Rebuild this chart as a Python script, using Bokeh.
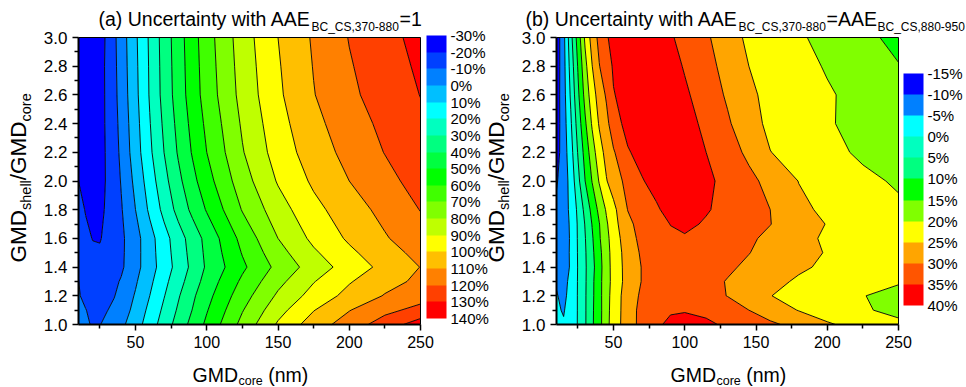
import numpy as np
from bokeh.plotting import figure
from bokeh.models import (Range1d, FixedTicker, PrintfTickFormatter, LinearColorMapper,
                          ColorBar, Label, CustomJSTickFormatter, LinearAxis, AllLabels)
from bokeh.embed import file_html
from bokeh.resources import INLINE

# ---------------- data: panel (a) ----------------
GMD_CORE_A = [10, 15, 20, 25, 30, 35, 40, 50, 60, 70, 80, 90, 100, 125, 150, 175, 200, 225, 250]
RATIO_A = [1.0, 1.1, 1.2, 1.3, 1.4, 1.5, 1.6, 1.8, 2.0, 2.2, 2.4, 2.6, 2.8, 3.0]
UNC_A = [
    [-7.0, -9.0, -10.6, -10.3, -7.8, -5.0, -2.2, 5.5, 15.0, 24.5, 34.0, 43.3, 52.0, 73.1, 91.3, 105.0, 114.8, 124.6, 135.0],
    [-8.2, -9.8, -11.5, -11.5, -10.3, -8.0, -5.4, 3.2, 12.5, 22.0, 31.3, 40.3, 49.3, 69.4, 86.5, 99.6, 109.6, 117.5, 123.0],
    [-9.5, -11.5, -13.0, -13.0, -12.3, -10.4, -6.9, 0.9, 10.0, 19.5, 29.0, 38.2, 46.7, 65.7, 81.6, 93.8, 103.1, 110.6, 116.0],
    [-9.9, -12.5, -15.0, -15.0, -13.8, -11.8, -9.2, -1.2, 7.8, 17.1, 26.3, 34.9, 44.0, 61.9, 77.2, 89.5, 99.2, 106.7, 112.0],
    [-10.5, -14.0, -16.5, -17.0, -15.5, -13.5, -11.5, -3.3, 5.7, 14.7, 23.7, 32.5, 41.4, 58.1, 72.8, 84.7, 94.4, 102.9, 110.2],
    [-12.5, -16.0, -18.5, -19.0, -17.0, -14.5, -11.8, -3.5, 6.0, 15.5, 24.6, 33.5, 42.2, 60.6, 76.4, 88.5, 98.0, 106.0, 113.0],
    [-14.5, -18.0, -20.3, -20.5, -18.1, -15.0, -11.9, -3.6, 6.3, 16.2, 25.5, 34.5, 43.0, 63.1, 80.0, 92.3, 101.5, 109.1, 116.0],
    [-17.0, -20.5, -22.0, -21.3, -19.2, -15.0, -10.8, 0.0, 11.8, 22.8, 33.2, 42.4, 50.8, 70.6, 85.6, 97.1, 105.5, 112.9, 120.3],
    [-20.0, -22.5, -23.0, -21.7, -19.5, -14.7, -9.4, 2.6, 15.1, 26.7, 37.4, 47.1, 56.1, 75.5, 90.9, 101.7, 110.0, 116.9, 124.0],
    [-22.0, -24.0, -24.0, -21.8, -19.4, -13.9, -8.0, 5.3, 18.1, 30.0, 41.0, 50.9, 60.0, 79.3, 94.5, 105.0, 113.1, 120.3, 126.5],
    [-23.5, -25.0, -24.5, -22.0, -19.1, -13.3, -7.0, 6.3, 19.5, 31.7, 42.8, 52.9, 62.1, 81.3, 96.4, 107.3, 115.5, 122.3, 128.3],
    [-25.0, -26.0, -25.0, -22.3, -18.9, -12.6, -6.1, 7.4, 20.8, 33.4, 44.6, 54.9, 64.3, 83.3, 98.3, 109.6, 118.0, 124.4, 130.2],
    [-25.5, -26.5, -25.5, -22.5, -18.7, -12.2, -5.6, 7.9, 21.1, 33.8, 45.1, 55.4, 65.0, 84.2, 99.1, 110.4, 119.2, 125.6, 131.6],
    [-26.0, -27.0, -26.0, -23.5, -18.6, -11.9, -5.1, 8.4, 21.5, 34.2, 45.6, 56.0, 65.7, 85.1, 100.0, 111.2, 120.4, 126.9, 133.0],
]
LEVELS_A = [-30, -20, -10, 0, 10, 20, 30, 40, 50, 60, 70, 80, 90, 100, 110, 120, 130, 140]
COLORS_A = ["#0000FF", "#0040FF", "#0080FF", "#00BFFF", "#00FFFF", "#00FFBF", "#00FF80",
            "#00FF40", "#00FF00", "#40FF00", "#80FF00", "#BFFF00", "#FFFF00", "#FFBF00",
            "#FF8000", "#FF4000", "#FF0000"]

# ---------------- data: panel (b) ----------------
GMD_CORE_B = [10, 15, 20, 25, 30, 35, 40, 45, 50, 60, 70, 80, 90, 100, 115, 130, 145, 160, 180, 200, 225, 250]
RATIO_B = [1.0, 1.1, 1.2, 1.3, 1.4, 1.5, 1.6, 1.7, 1.8, 2.0, 2.2, 2.4, 2.6, 2.8, 3.0]
UNC_B = [
    [-4.0, -4.5, -2.2, 0.2, 4.4, 9.3, 13.3, 18.5, 22.3, 27.7, 31.5, 34.2, 36.0, 36.5, 35.8, 34.3, 32.6, 30.8, 28.6, 25.6, 23.0, 21.0],
    [-4.3, -5.4, -2.5, 0.2, 4.4, 9.2, 13.3, 18.3, 22.2, 27.6, 31.5, 33.5, 34.5, 34.7, 34.0, 32.0, 30.0, 27.7, 24.8, 22.5, 20.5, 18.8],
    [-4.8, -5.8, -3.8, 0.3, 4.4, 9.0, 13.4, 18.2, 22.0, 27.6, 30.8, 31.8, 32.3, 32.3, 31.5, 29.9, 27.5, 25.1, 23.5, 21.9, 20.1, 19.0],
    [-5.3, -5.5, -4.6, 0.3, 4.3, 8.9, 13.5, 17.9, 21.7, 26.9, 30.2, 31.5, 32.0, 32.0, 31.2, 29.8, 28.5, 26.5, 24.3, 22.8, 21.3, 20.3],
    [-7.5, -6.3, -4.7, 0.2, 4.3, 8.4, 13.3, 17.8, 21.9, 26.9, 30.2, 31.5, 32.2, 32.5, 31.8, 30.6, 29.3, 27.8, 25.8, 24.1, 22.6, 21.5],
    [-7.8, -6.5, -4.6, 0.3, 4.4, 8.9, 13.6, 18.1, 22.0, 27.2, 30.7, 32.5, 33.3, 33.5, 32.8, 31.5, 30.1, 28.7, 26.6, 24.7, 22.9, 21.6],
    [-8.0, -6.8, -4.6, 0.4, 4.7, 9.4, 14.4, 18.6, 22.3, 28.0, 31.3, 33.0, 34.2, 34.5, 33.5, 32.0, 30.7, 29.0, 26.4, 24.3, 22.8, 21.5],
    [-8.5, -6.7, -4.5, 0.5, 5.2, 10.2, 14.8, 19.3, 23.1, 28.9, 31.7, 33.3, 35.1, 36.0, 34.5, 32.6, 31.2, 30.1, 27.4, 24.8, 22.9, 21.2],
    [-9.0, -6.8, -4.1, 1.0, 6.3, 11.5, 16.3, 20.5, 23.7, 30.1, 32.4, 34.4, 36.5, 37.5, 35.4, 33.6, 31.8, 30.0, 26.0, 24.1, 22.5, 20.7],
    [-10.5, -7.4, -3.4, 3.5, 9.9, 15.2, 20.4, 24.7, 27.4, 31.6, 34.7, 36.5, 37.5, 38.0, 36.0, 33.6, 31.2, 28.6, 24.9, 23.3, 20.9, 19.5],
    [-12.0, -7.5, -2.0, 5.3, 11.7, 17.7, 22.9, 26.6, 29.5, 34.6, 36.5, 37.5, 38.3, 38.0, 35.0, 32.1, 29.0, 25.1, 23.1, 21.2, 19.3, 19.0],
    [-12.3, -7.3, -0.7, 7.1, 14.1, 20.6, 25.5, 28.5, 33.0, 36.5, 37.5, 38.5, 38.3, 37.0, 33.8, 30.6, 27.1, 23.8, 22.3, 20.3, 19.0, 18.0],
    [-12.5, -6.9, 0.7, 8.9, 16.5, 22.8, 27.1, 30.6, 34.8, 36.5, 38.0, 38.5, 37.5, 35.8, 32.6, 29.4, 26.0, 23.6, 22.3, 20.5, 18.5, 17.0],
    [-12.8, -6.7, 1.9, 10.3, 18.4, 24.9, 29.8, 33.0, 35.5, 37.5, 38.5, 38.3, 36.8, 34.6, 31.6, 28.4, 25.0, 23.5, 21.5, 19.6, 17.4, 15.2],
    [-13.0, -6.4, 3.3, 12.1, 20.8, 27.0, 31.4, 34.5, 36.5, 38.0, 38.5, 38.0, 35.5, 33.5, 30.7, 27.3, 24.0, 22.8, 20.6, 18.6, 16.2, 13.7],
]
LEVELS_B = [-15, -10, -5, 0, 5, 10, 15, 20, 25, 30, 35, 40]
COLORS_B = ["#0000FF", "#0080FF", "#00FFFF", "#00FFBF", "#00FF80", "#00FF00",
            "#80FF00", "#FFFF00", "#FFA500", "#FF5500", "#FF0000"]

X_LIMITS = (10, 250)
Y_LIMITS = (1.0, 3.0)
X_TICKS = [50, 100, 150, 200, 250]
X_MINOR = [25, 75, 125, 175, 225]
Y_TICKS = [1.0, 1.2, 1.4, 1.6, 1.8, 2.0, 2.2, 2.4, 2.6, 2.8, 3.0]
Y_MINOR = [1.1, 1.3, 1.5, 1.7, 1.9, 2.1, 2.3, 2.5, 2.7, 2.9]

# ---------------- layout / style (pixels) ----------------
FONT = "Liberation Sans"
W, H = 966, 387
AREA_W, AREA_H = 342, 287      # each plot area
AREA_TOP = 37
LEFT_A, LEFT_B = 78, 556       # left edge of each plot area
BIG, SMALL = "19.5px", "12.5px"
YBIG, YSMALL = "22.5px", "14.5px"

sx = AREA_W / (X_LIMITS[1] - X_LIMITS[0])
sy = AREA_H / (Y_LIMITS[1] - Y_LIMITS[0])
xa0 = X_LIMITS[0] - LEFT_A / sx
xb0 = X_LIMITS[0] - LEFT_B / sx
y0 = Y_LIMITS[0] - (H - AREA_TOP - AREA_H) / sy

p = figure(width=W, height=H, x_range=Range1d(xa0, xa0 + W / sx),
           y_range=Range1d(y0, y0 + H / sy), output_backend="svg",
           toolbar_location=None, title=None, min_border=0)
p.extra_x_ranges = {"b": Range1d(xb0, xb0 + W / sx)}
p.grid.visible = False
p.outline_line_color = None
p.background_fill_color = "white"
p.border_fill_color = "white"
p.xaxis.visible = False
p.yaxis.visible = False


def add_label(text, x, y, size, angle=0.0):
    p.add_layout(Label(x=x, y=y, x_units="screen", y_units="screen", text=text,
                       text_font=FONT, text_font_size=size, text_color="black",
                       text_align="left", text_baseline="alphabetic", angle=angle))


def style_axis(ax):
    ax.axis_line_width = 2
    ax.axis_line_color = "black"
    ax.major_tick_line_width = 1.5
    ax.minor_tick_line_width = 1.5
    ax.major_tick_out = 6
    ax.major_tick_in = 0
    ax.minor_tick_out = 4
    ax.minor_tick_in = 0
    ax.major_label_text_font = FONT
    ax.major_label_text_color = "black"


def panel(xs, ys, zs, levels, colors, rname, cb_loc, cb_len, dx):
    cr = p.contour(x=xs, y=ys, z=np.array(zs), levels=levels, fill_color=colors,
                   line_color="black", line_width=0.9)
    if rname != "default":
        cr.x_range_name = rname
        cr.fill_renderer.x_range_name = rname
        cr.line_renderer.x_range_name = rname

    xa = LinearAxis(x_range_name=rname, fixed_location=Y_LIMITS[0], bounds=X_LIMITS,
                    ticker=FixedTicker(ticks=X_TICKS, minor_ticks=X_MINOR),
                    major_label_text_font_size="16px")
    ya = LinearAxis(x_range_name=rname, fixed_location=X_LIMITS[0], bounds=Y_LIMITS,
                    ticker=FixedTicker(ticks=Y_TICKS, minor_ticks=Y_MINOR),
                    formatter=PrintfTickFormatter(format="%.1f"),
                    major_label_text_font_size="17px")
    style_axis(xa)
    style_axis(ya)
    p.add_layout(xa, "below")
    p.add_layout(ya, "left")
    top = LinearAxis(x_range_name=rname, fixed_location=Y_LIMITS[1], bounds=X_LIMITS,
                     ticker=FixedTicker(ticks=[]), axis_line_width=1, axis_line_color="black")
    right = LinearAxis(x_range_name=rname, fixed_location=X_LIMITS[1], bounds=Y_LIMITS,
                       ticker=FixedTicker(ticks=[]), axis_line_width=1, axis_line_color="black")
    p.add_layout(top, "above")
    p.add_layout(right, "right")

    mapper = LinearColorMapper(palette=list(reversed(colors)), low=-levels[-1], high=-levels[0])
    cb = ColorBar(color_mapper=mapper, ticker=FixedTicker(ticks=sorted(-v for v in levels)),
                  formatter=CustomJSTickFormatter(code="return (-tick) + '%';"),
                  major_label_policy=AllLabels(),
                  width=20, height=cb_len, location=cb_loc, padding=0,
                  major_tick_line_color=None, minor_tick_line_color=None,
                  bar_line_color=None, border_line_color=None,
                  background_fill_alpha=0, label_standoff=4,
                  major_label_text_font=FONT, major_label_text_font_size="15px",
                  major_label_text_color="black")
    p.add_layout(cb)

    # x axis title
    add_label("GMD", 192 + dx, 12.2, BIG)
    add_label("core", 238 + dx, 6.3, SMALL)
    add_label("(nm)", 267.7 + dx, 12.2, BIG)
    # y axis title (rotated)
    a = np.pi / 2
    add_label("GMD", 18.2 + dx, 125, YBIG, a)
    add_label("shell", 25.5 + dx, 177.5, YSMALL, a)
    add_label("/GMD", 18.2 + dx, 207.3, YBIG, a)
    add_label("core", 25.5 + dx, 266, YSMALL, a)


panel(GMD_CORE_A, RATIO_A, UNC_A, LEVELS_A, COLORS_A, "default", (426, 69), 283, 0)
panel(GMD_CORE_B, RATIO_B, UNC_B, LEVELS_B, COLORS_B, "b", (903, 82), 232, LEFT_B - LEFT_A)

# titles
add_label("(a) Uncertainty with AAE", 98, 368.2, BIG)
add_label("BC_CS,370-880", 311, 360.1, "12px")
add_label("=1", 399, 368.2, BIG)
add_label("(b) Uncertainty with AAE", 525, 368.2, BIG)
add_label("BC_CS,370-880", 738, 360.1, "12px")
add_label("=AAE", 826, 368.2, BIG)
add_label("BC_CS,880-950", 877, 360.1, "12px")

open("out.html", "w").write(file_html(p, INLINE))
